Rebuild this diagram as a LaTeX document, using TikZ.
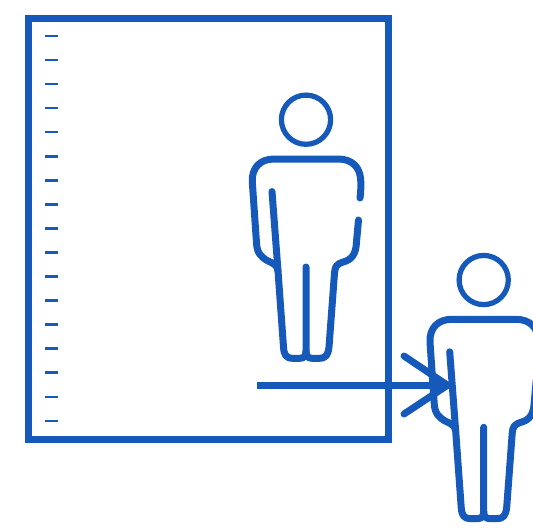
\documentclass[tikz,border=0pt]{standalone}
\usepackage{xcolor}
\usetikzlibrary{arrows.meta,positioning,calc}
\definecolor{rulerblue}{HTML}{1559BB}

\begin{document}
\begin{tikzpicture}[
  x=0.02cm,
  y=-0.02cm,
  frame/.style={draw=rulerblue, line width=0.14cm},
  notch/.style={draw=rulerblue, line width=0.05cm},
  limb/.style={draw=rulerblue, line width=0.14cm, line cap=round, line join=round},
  headline/.style={draw=rulerblue, line width=0.105cm},
  person/.pic={
    % Head and body, origin 66 left of and 35 above the head centre.
    \draw[headline] (66,34.7) circle (24.6);
    \draw[limb] (120,113) .. controls (121,105) and (121,100) .. (120.7,95)
      .. controls (120,82) and (112,74) .. (98,74) -- (34,74)
      .. controls (20,74) and (11.5,83) .. (12.3,97) -- (16.5,158)
      .. controls (17,168) and (21,172) .. (28,176)
      .. controls (35,179) and (37.5,181) .. (38,186) -- (43.5,262)
      .. controls (44,270) and (46,273.3) .. (53,273.3) -- (60,273.3)
      .. controls (64,273.3) and (66,271) .. (66,266) -- (66,182);
    \draw[limb] (66,266) .. controls (66,271) and (68,273.3) .. (72,273.3) -- (79,273.3)
      .. controls (86,273.3) and (88,270) .. (89,262) -- (94.5,188)
      .. controls (95,181) and (97,179) .. (103,177)
      .. controls (111,175) and (116,170) .. (116.5,157) -- (118.5,135);
    \draw[limb] (32,106.5) -- (38,186);
  }
]
\useasboundingbox (0,0) rectangle (533,529);

% Mirror frame and its scale.
\draw[frame] (28.5,18.5) rectangle (388.8,439.5);
\foreach \ii in {0,...,16} {
  \draw[notch] (45,36+24.05*\ii) -- (58,36+24.05*\ii);
}

% Person in the mirror.
\pic at (240,85) {person};

% Arrow from the reflection to the person.
\coordinate (start) at (257,385.2);
\coordinate (tip) at (447.5,385.2);
\coordinate (barbup) at (404,356);
\coordinate (barbdown) at (404,414);
\draw[limb, line cap=butt] (start) -- (tip);
\draw[limb] (barbup) -- (tip) -- (barbdown);

% Person in front of the mirror.
\pic at (417.7,245.3) {person};
\end{tikzpicture}
\end{document}
